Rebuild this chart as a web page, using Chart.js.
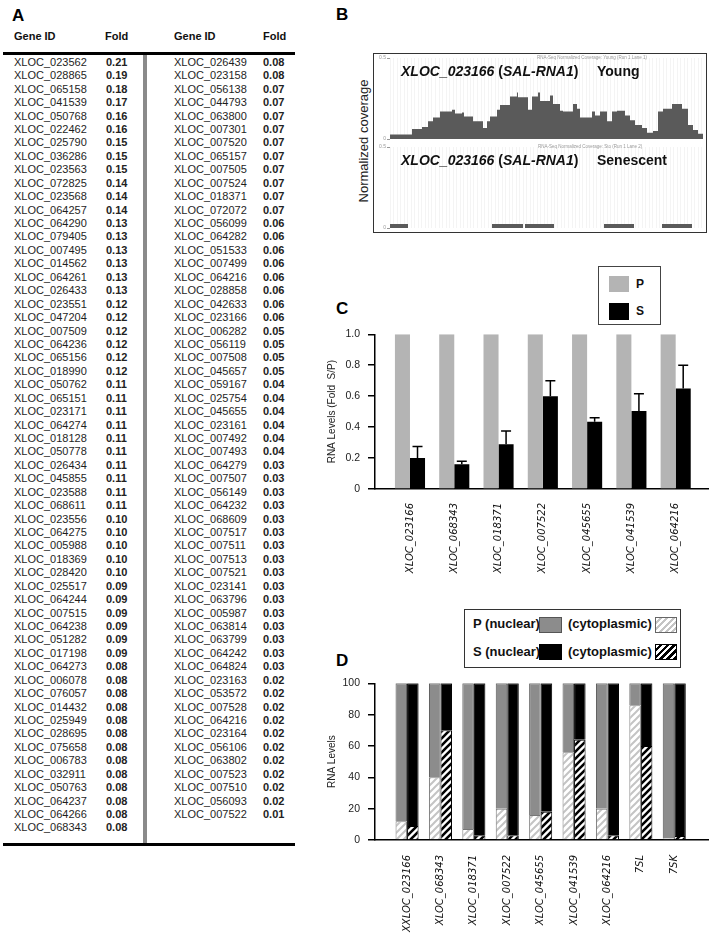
<!DOCTYPE html>
<html>
<head>
<meta charset="utf-8">
<title>SAL-RNA figure</title>
<script src="https://cdn.jsdelivr.net/npm/chart.js@4.4.1/dist/chart.umd.min.js"></script>
<style>
  html, body { margin:0; padding:0; background:#fff; }
  body { position:relative; width:714px; height:938px; overflow:hidden; font-family:"Liberation Sans", Arial, sans-serif; color:#000; }
  .a { position:absolute; white-space:nowrap; }
  .panel { font-weight:bold; font-size:17px; line-height:20px; }
  .hdr { font-weight:bold; font-size:11px; line-height:14px; color:#111; }
  .row { font-size:11px; line-height:13.43px; height:13.43px; color:#1e1e1e; }
  .fold { font-weight:bold; color:#222; }
  canvas { position:absolute; }
  .big { font-weight:bold; font-size:14px; line-height:16px; color:#111; }
  .tiny { font-size:4.5px; line-height:5px; color:#999; }
  .leg { font-weight:bold; font-size:13px; line-height:16px; color:#111; }
</style>
</head>
<body>
<!-- Panel A -->
<div class="a panel" style="left:12px;top:6px">A</div>
<div class="a hdr" style="left:14px;top:29px">Gene ID</div>
<div class="a hdr" style="left:105px;top:29px">Fold</div>
<div class="a hdr" style="left:174px;top:29px">Gene ID</div>
<div class="a hdr" style="left:263px;top:29px">Fold</div>
<div class="a" style="left:3px;top:52px;width:292px;height:3px;background:#000"></div>
<div class="a" style="left:143px;top:55px;width:4px;height:788px;background:#8a8a8a"></div>
<div class="a" style="left:3px;top:843px;width:292px;height:3px;background:#000"></div>
<div id="tableRows"></div>

<!-- Panel B -->
<div class="a panel" style="left:336px;top:5px">B</div>
<div class="a" style="left:363px;top:141px;transform:translate(-50%,-50%) rotate(-90deg);font-size:13px;line-height:15px;color:#222">Normalized coverage</div>
<div class="a" style="left:373px;top:53px;width:334px;height:180px;border:1.5px solid #333;box-sizing:border-box"></div>
<canvas id="covYoung" width="332" height="89" style="left:374px;top:54px"></canvas>
<canvas id="covSen" width="332" height="89" style="left:374px;top:143px"></canvas>
<div class="a tiny" style="left:537px;top:55px">RNA-Seq Normalized Coverage: Young (Run 1 Lane 1)</div>
<div class="a tiny" style="left:538px;top:144px">RNA-Seq Normalized Coverage: Sto (Run 1 Lane 2)</div>
<div class="a big" style="left:401px;top:63px"><i>XLOC_023166</i> (<i>SAL-RNA1</i>)</div>
<div class="a big" style="left:597px;top:63px">Young</div>
<div class="a big" style="left:401px;top:152px"><i>XLOC_023166</i> (<i>SAL-RNA1</i>)</div>
<div class="a big" style="left:597px;top:152px">Senescent</div>

<!-- Panel C -->
<div class="a panel" style="left:336px;top:299px">C</div>
<canvas id="chartC" width="392" height="280" style="left:322px;top:320px"></canvas>
<div class="a" style="left:598px;top:266px;width:63px;height:59px;border:1px solid #444;box-sizing:border-box;background:#fff"></div>
<div class="a" style="left:609px;top:276px;width:20px;height:16px;background:#b4b4b4"></div>
<div class="a leg" style="left:636px;top:276px;font-size:12px">P</div>
<div class="a" style="left:609px;top:303px;width:20px;height:17px;background:#000"></div>
<div class="a leg" style="left:636px;top:303px;font-size:12px">S</div>

<!-- Panel D -->
<div class="a panel" style="left:336px;top:651px">D</div>
<canvas id="chartD" width="392" height="269" style="left:322px;top:669px"></canvas>
<div class="a" style="left:464px;top:609px;width:217px;height:59px;border:1px solid #333;box-sizing:border-box;background:#fff"></div>
<div class="a leg" style="left:473px;top:616px">P (nuclear)</div>
<div class="a" style="left:539px;top:617px;width:23px;height:16px;background:#8c8c8c;border:1px solid #555;box-sizing:border-box"></div>
<div class="a leg" style="left:568px;top:616px">(cytoplasmic)</div>
<div class="a" style="left:655px;top:617px;width:22px;height:16px;border:1px solid #666;box-sizing:border-box;background:repeating-linear-gradient(135deg,#fff 0px,#fff 2.5px,#c4c4c4 2.5px,#c4c4c4 4.5px)"></div>
<div class="a leg" style="left:473px;top:644px">S (nuclear)</div>
<div class="a" style="left:539px;top:644px;width:23px;height:16px;background:#000"></div>
<div class="a leg" style="left:568px;top:644px">(cytoplasmic)</div>
<div class="a" style="left:655px;top:644px;width:22px;height:16px;border:1px solid #000;box-sizing:border-box;background:repeating-linear-gradient(135deg,#fff 0px,#fff 2.3px,#000 2.3px,#000 4.8px)"></div>

<script>
// ---------- Panel A: table data ----------
const leftGeneIds = ["XLOC_023562","XLOC_028865","XLOC_065158","XLOC_041539","XLOC_050768","XLOC_022462","XLOC_025790","XLOC_036286","XLOC_023563","XLOC_072825","XLOC_023568","XLOC_064257","XLOC_064290","XLOC_079405","XLOC_007495","XLOC_014562","XLOC_064261","XLOC_026433","XLOC_023551","XLOC_047204","XLOC_007509","XLOC_064236","XLOC_065156","XLOC_018990","XLOC_050762","XLOC_065151","XLOC_023171","XLOC_064274","XLOC_018128","XLOC_050778","XLOC_026434","XLOC_045855","XLOC_023588","XLOC_068611","XLOC_023556","XLOC_064275","XLOC_005988","XLOC_018369","XLOC_028420","XLOC_025517","XLOC_064244","XLOC_007515","XLOC_064238","XLOC_051282","XLOC_017198","XLOC_064273","XLOC_006078","XLOC_076057","XLOC_014432","XLOC_025949","XLOC_028695","XLOC_075658","XLOC_006783","XLOC_032911","XLOC_050763","XLOC_064237","XLOC_064266","XLOC_068343"];
const leftFolds = [0.21,0.19,0.18,0.17,0.16,0.16,0.15,0.15,0.15,0.14,0.14,0.14,0.13,0.13,0.13,0.13,0.13,0.13,0.12,0.12,0.12,0.12,0.12,0.12,0.11,0.11,0.11,0.11,0.11,0.11,0.11,0.11,0.11,0.11,0.10,0.10,0.10,0.10,0.10,0.09,0.09,0.09,0.09,0.09,0.09,0.08,0.08,0.08,0.08,0.08,0.08,0.08,0.08,0.08,0.08,0.08,0.08,0.08];
const rightGeneIds = ["XLOC_026439","XLOC_023158","XLOC_056138","XLOC_044793","XLOC_063800","XLOC_007301","XLOC_007520","XLOC_065157","XLOC_007505","XLOC_007524","XLOC_018371","XLOC_072072","XLOC_056099","XLOC_064282","XLOC_051533","XLOC_007499","XLOC_064216","XLOC_028858","XLOC_042633","XLOC_023166","XLOC_006282","XLOC_056119","XLOC_007508","XLOC_045657","XLOC_059167","XLOC_025754","XLOC_045655","XLOC_023161","XLOC_007492","XLOC_007493","XLOC_064279","XLOC_007507","XLOC_056149","XLOC_064232","XLOC_068609","XLOC_007517","XLOC_007511","XLOC_007513","XLOC_007521","XLOC_023141","XLOC_063796","XLOC_005987","XLOC_063814","XLOC_063799","XLOC_064242","XLOC_064824","XLOC_023163","XLOC_053572","XLOC_007528","XLOC_064216","XLOC_023164","XLOC_056106","XLOC_063802","XLOC_007523","XLOC_007510","XLOC_056093","XLOC_007522"];
const rightFolds = [0.08,0.08,0.07,0.07,0.07,0.07,0.07,0.07,0.07,0.07,0.07,0.07,0.06,0.06,0.06,0.06,0.06,0.06,0.06,0.06,0.05,0.05,0.05,0.05,0.04,0.04,0.04,0.04,0.04,0.04,0.03,0.03,0.03,0.03,0.03,0.03,0.03,0.03,0.03,0.03,0.03,0.03,0.03,0.03,0.03,0.03,0.02,0.02,0.02,0.02,0.02,0.02,0.02,0.02,0.02,0.02,0.01];

// ---------- Panel B: coverage tracks (position in bins, normalized coverage) ----------
const youngPos = [0,22,32,38,43,50,62,65,72,74,83,93,97,100,107,110,120,127,128,138,142,148,150,160,163,170,173,183,187,190,202,205,210,217,222,227,235,240,245,252,257,263,268,273,282,292,298,303,308,313];
const youngCov = [0.028,0.062,0.074,0.110,0.133,0.169,0.181,0.157,0.163,0.139,0.110,0.068,0.110,0.139,0.181,0.210,0.263,0.287,0.258,0.181,0.263,0.287,0.234,0.269,0.216,0.175,0.169,0.216,0.186,0.133,0.169,0.145,0.169,0.110,0.169,0.175,0.145,0.115,0.086,0.068,0.038,0.050,0.169,0.186,0.216,0.186,0.086,0.056,0.033,0.033];
const senescentPos = [0,18,102,133,135,164,214,244,272,302];
const senescentCov = [0.024,0,0.024,0,0.024,0,0.024,0,0.024,0];
const coverageTicks = [0, 0.5];

// ---------- Panel C: qPCR ----------
const qpcrGenes = ["XLOC_023166","XLOC_068343","XLOC_018371","XLOC_007522","XLOC_045655","XLOC_041539","XLOC_064216"];
const qpcrP = [1,1,1,1,1,1,1];
const qpcrS = [0.20,0.16,0.29,0.60,0.435,0.505,0.65];
const qpcrSErr = [0.075,0.02,0.085,0.10,0.025,0.11,0.15];

// ---------- Panel D: fractionation ----------
const fracLabels = ["XXLOC_023166","XLOC_068343","XLOC_018371","XLOC_007522","XLOC_045655","XLOC_041539","XLOC_064216","7SL","7SK"];
const pCyto = [12,40,7,20,16,56,20,86,1];
const pNuclear = [88,60,93,80,84,44,80,14,99];
const sCyto = [9,70,3,3,18,64,3,60,2.5];
const sNuclear = [91,30,97,97,82,36,97,40,97.5];

// ---------- build table ----------
(function(){
  const host = document.getElementById('tableRows');
  const pitch = 13.43, top0 = 55.9;
  function cell(text, x, i, cls){
    const d = document.createElement('div');
    d.className = 'a row' + (cls ? ' ' + cls : '');
    d.style.left = x + 'px';
    d.style.top = (top0 + i * pitch) + 'px';
    d.textContent = text;
    host.appendChild(d);
  }
  leftGeneIds.forEach((g,i)=>{ cell(g, 14, i); cell(leftFolds[i].toFixed(2), 106, i, 'fold'); });
  rightGeneIds.forEach((g,i)=>{ cell(g, 174, i); cell(rightFolds[i].toFixed(2), 263, i, 'fold'); });
})();

Chart.defaults.font.family = "'Liberation Sans', Arial, sans-serif";
Chart.defaults.animation = false;
Chart.defaults.responsive = false;
Chart.defaults.devicePixelRatio = 1;
Chart.defaults.plugins.legend.display = false;
Chart.defaults.plugins.tooltip.enabled = false;

// ---------- coverage charts ----------
function coverageChart(id, pos, cov, padBottom){
  return new Chart(document.getElementById(id), {
    type: 'line',
    data: { datasets: [{
      data: pos.map((p,i)=>({x:p, y:cov[i]})),
      stepped: 'before', fill: 'origin',
      backgroundColor: '#5a5a5a', borderColor: 'rgba(0,0,0,0)', borderWidth: 0,
      pointRadius: 0
    }]},
    options: {
      layout: { padding: { top: 3, bottom: padBottom, left: 0, right: 0 } },
      scales: {
        x: { type: 'linear', min: 0, max: 316,
             afterFit: s => { s.height = 0; },
             ticks: { display: false, stepSize: 3.5, maxTicksLimit: 200 },
             grid: { color: 'rgba(0,0,0,0.045)', drawTicks: false },
             border: { display: false } },
        y: { min: 0, max: 0.5,
             afterFit: s => { s.width = 16; },
             afterBuildTicks: s => { s.ticks = coverageTicks.map(v=>({value:v})); },
             ticks: { font: { size: 5 }, color: '#999', padding: 1, callback: v => String(v) },
             grid: { drawOnChartArea: false, tickLength: 3, color: '#999' },
             border: { display: false } }
      }
    }
  });
}
coverageChart('covYoung', youngPos, youngCov, 1.5);
coverageChart('covSen', senescentPos, senescentCov, 1.3);

// ---------- Panel C ----------
const errorBars = {
  id: 'errorBars',
  afterDatasetsDraw(chart){
    const meta = chart.getDatasetMeta(1);
    const y = chart.scales.y, ctx = chart.ctx;
    ctx.save();
    ctx.strokeStyle = '#000'; ctx.lineWidth = 1.5;
    meta.data.forEach((bar, i) => {
      const top = y.getPixelForValue(qpcrS[i] + qpcrSErr[i]);
      ctx.beginPath();
      ctx.moveTo(bar.x, bar.y); ctx.lineTo(bar.x, top);
      ctx.moveTo(bar.x - 5, top); ctx.lineTo(bar.x + 5, top);
      ctx.stroke();
    });
    ctx.restore();
  }
};

const tickFont = { family: "'Liberation Sans', Arial, sans-serif", size: 10.5 };
const labelFont = { family: "'DejaVu Sans', sans-serif", size: 10, style: 'italic' };

new Chart(document.getElementById('chartC'), {
  type: 'bar',
  data: { datasets: [
    { label: 'P', data: qpcrP.map((v,i)=>({x:i, y:v})), backgroundColor: '#b4b4b4', categoryPercentage: 0.68, barPercentage: 1 },
    { label: 'S', data: qpcrS.map((v,i)=>({x:i, y:v})), backgroundColor: '#000', categoryPercentage: 0.68, barPercentage: 1 }
  ]},
  options: {
    layout: { padding: { top: 12, right: 6, left: 0, bottom: 0 } },
    scales: {
      x: { type: 'linear', offset: false, min: -0.79, max: 6.73,
           afterBuildTicks: s => { s.ticks = qpcrGenes.map((g,i)=>({value:i})); },
           afterFit: s => { s.height = 111; },
           ticks: { callback: v => qpcrGenes[v], autoSkip: false, minRotation: 90, maxRotation: 90, padding: 14, font: labelFont, color: '#111' },
           grid: { display: false, drawTicks: false },
           border: { display: true, color: '#000', width: 1.5 } },
      y: { min: 0, max: 1,
           afterFit: s => { s.width = 53; },
           ticks: { stepSize: 0.2, callback: v => v === 0 ? '0' : v.toFixed(1), padding: 8, font: tickFont, color: '#222' },
           grid: { drawOnChartArea: false, tickLength: 7, color: '#000', lineWidth: 1.5 },
           border: { color: '#000', width: 1.5 },
           title: { display: true, text: 'RNA Levels (Fold  S/P)', font: { size: 10 }, color: '#222', padding: { top: 4, bottom: 0 } } }
    }
  },
  plugins: [errorBars]
});

// ---------- Panel D ----------
const ctxD = document.getElementById('chartD').getContext('2d');
function pattern(bg, fg, lw){
  const c = document.createElement('canvas');
  const n = 7; c.width = n; c.height = n;
  const g = c.getContext('2d');
  g.fillStyle = bg; g.fillRect(0,0,n,n);
  g.strokeStyle = fg; g.lineWidth = lw; g.lineCap = 'square';
  g.beginPath();
  g.moveTo(-1, n+1); g.lineTo(n+1, -1);
  g.moveTo(-1, 1); g.lineTo(1, -1);
  g.moveTo(n-1, n+1); g.lineTo(n+1, n-1);
  g.stroke();
  return ctxD.createPattern(c, 'repeat');
}
const patP = pattern('#ffffff', '#c4c4c4', 2);
const patS = pattern('#ffffff', '#000000', 2.6);

const dBar = { categoryPercentage: 0.69, barPercentage: 1, borderWidth: 1 };
new Chart(ctxD, {
  type: 'bar',
  data: { datasets: [
    Object.assign({ label: 'P (cytoplasmic)', stack: 'P', data: pCyto.map((v,i)=>({x:i,y:v})), backgroundColor: patP, borderColor: '#777' }, dBar),
    Object.assign({ label: 'P (nuclear)', stack: 'P', data: pNuclear.map((v,i)=>({x:i,y:v})), backgroundColor: '#8c8c8c', borderColor: '#555' }, dBar),
    Object.assign({ label: 'S (cytoplasmic)', stack: 'S', data: sCyto.map((v,i)=>({x:i,y:v})), backgroundColor: patS, borderColor: '#000' }, dBar),
    Object.assign({ label: 'S (nuclear)', stack: 'S', data: sNuclear.map((v,i)=>({x:i,y:v})), backgroundColor: '#000', borderColor: '#000' }, dBar)
  ]},
  options: {
    layout: { padding: { top: 12, right: 6, left: 0, bottom: 0 } },
    scales: {
      x: { type: 'linear', stacked: true, offset: false, min: -0.96, max: 9.01,
           afterBuildTicks: s => { s.ticks = fracLabels.map((g,i)=>({value:i})); },
           afterFit: s => { s.height = 98; },
           ticks: { callback: v => fracLabels[v], autoSkip: false, minRotation: 90, maxRotation: 90, padding: 15, font: labelFont, color: '#111' },
           grid: { display: false, drawTicks: false },
           border: { display: true, color: '#000', width: 1.5 } },
      y: { stacked: true, min: 0, max: 100,
           afterFit: s => { s.width = 53; },
           ticks: { stepSize: 20, padding: 8, font: tickFont, color: '#222' },
           grid: { drawOnChartArea: false, tickLength: 7, color: '#000', lineWidth: 1.5 },
           border: { color: '#000', width: 1.5 },
           title: { display: true, text: 'RNA Levels', font: { size: 10 }, color: '#222', padding: { top: 4, bottom: 0 } } }
    }
  }
});
</script>
</body>
</html>
